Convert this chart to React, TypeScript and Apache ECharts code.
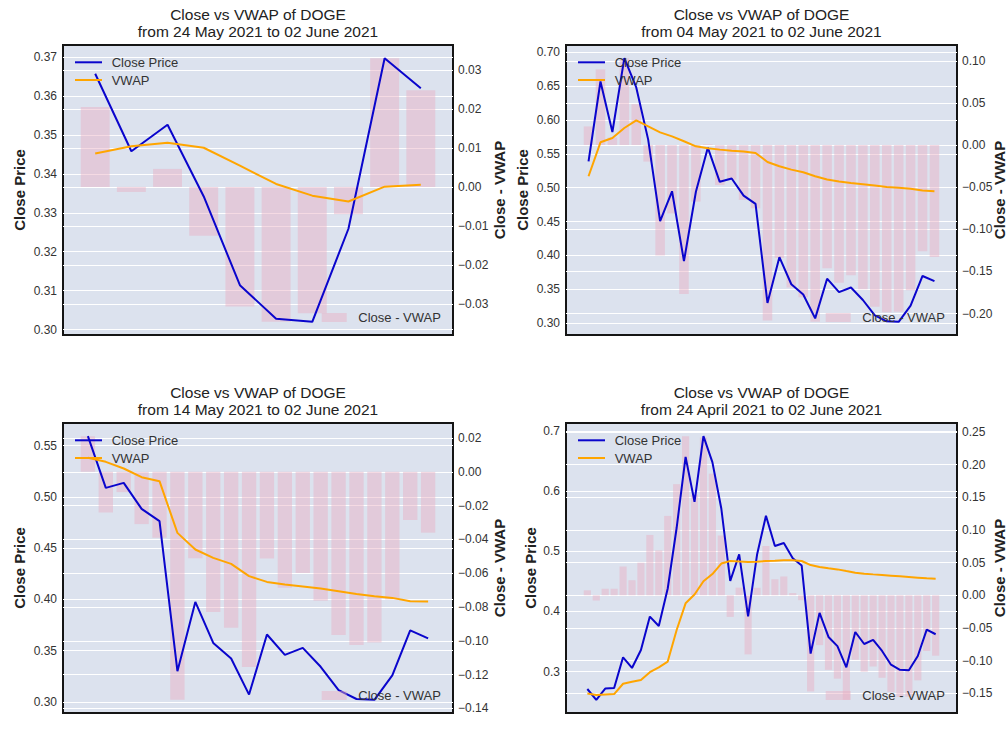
import React, { useEffect, useRef } from "react";
import * as echarts from "echarts";

const FONT = "'Liberation Sans', Arial, Helvetica, sans-serif";

// Daily close price of DOGE, 24 April 2021 .. 02 June 2021 (40 days)
const closePrice = [
  0.2710, 0.2530, 0.2718, 0.2725, 0.3237, 0.3060, 0.3359, 0.3913, 0.3757, 0.4380,
  0.5390, 0.6568, 0.5822, 0.6912, 0.6480, 0.5710, 0.4505, 0.4947, 0.3916, 0.4940,
  0.5591, 0.5087, 0.5136, 0.4882, 0.4762, 0.3299, 0.3975, 0.3575, 0.3423, 0.3071,
  0.3657, 0.3458, 0.3526, 0.3342, 0.3114, 0.3028, 0.3020, 0.3259, 0.3697, 0.3620,
];

// VWAP and Close - VWAP for each look-back window
const vwap10 = [0.3452, 0.3471, 0.3480, 0.3467, 0.3421, 0.3374, 0.3344, 0.3329, 0.3367, 0.3372];
const diff10 = [0.0205, -0.0013, 0.0046, -0.0125, -0.0307, -0.0346, -0.0324, -0.0070, 0.0330, 0.0248];

const vwap30 = [
  0.5169, 0.5670, 0.5734, 0.5881, 0.5994, 0.5906, 0.5817, 0.5758, 0.5685, 0.5611,
  0.5582, 0.5562, 0.5547, 0.5533, 0.5513, 0.5380, 0.5317, 0.5267, 0.5228, 0.5169,
  0.5120, 0.5091, 0.5071, 0.5052, 0.5032, 0.5012, 0.4998, 0.4983, 0.4958, 0.4948,
];
const diff30 = [
  0.0221, 0.0898, 0.0088, 0.1031, 0.0486, -0.0196, -0.1312, -0.0811, -0.1769, -0.0671,
  0.0009, -0.0475, -0.0411, -0.0651, -0.0751, -0.2081, -0.1342, -0.1692, -0.1805, -0.2098,
  -0.1463, -0.1633, -0.1545, -0.1710, -0.1918, -0.1984, -0.1978, -0.1724, -0.1261, -0.1328,
];

const vwap20 = [
  0.5380, 0.5341, 0.5276, 0.5191, 0.5152, 0.4648, 0.4486, 0.4404, 0.4346, 0.4226,
  0.4170, 0.4144, 0.4125, 0.4105, 0.4079, 0.4053, 0.4030, 0.4014, 0.3982, 0.3980,
];
const diff20 = [
  0.0211, -0.0240, -0.0120, -0.0309, -0.0390, -0.1349, -0.0511, -0.0829, -0.0923, -0.1155,
  -0.0513, -0.0686, -0.0599, -0.0763, -0.0965, -0.1025, -0.1010, -0.0755, -0.0285, -0.0360,
];

const vwap40 = [
  0.2634, 0.2610, 0.2618, 0.2625, 0.2797, 0.2830, 0.2860, 0.2990, 0.3070, 0.3166,
  0.3690, 0.4134, 0.4280, 0.4500, 0.4620, 0.4795, 0.4836, 0.4830, 0.4820, 0.4826,
  0.4837, 0.4842, 0.4848, 0.4848, 0.4837, 0.4770, 0.4737, 0.4715, 0.4698, 0.4670,
  0.4643, 0.4627, 0.4615, 0.4604, 0.4593, 0.4582, 0.4571, 0.4560, 0.4549, 0.4544,
];
const diff40 = [
  0.0076, -0.0080, 0.0100, 0.0100, 0.0440, 0.0230, 0.0499, 0.0923, 0.0687, 0.1214,
  0.1700, 0.2434, 0.1542, 0.2412, 0.1860, 0.0915, -0.0331, 0.0117, -0.0904, 0.0114,
  0.0754, 0.0245, 0.0288, 0.0034, -0.0075, -0.1471, -0.0762, -0.1140, -0.1275, -0.1599,
  -0.0986, -0.1169, -0.1089, -0.1262, -0.1479, -0.1554, -0.1551, -0.1301, -0.0852, -0.0924,
];

// Tick labels
const leftTicks1 = ["0.30", "0.31", "0.32", "0.33", "0.34", "0.35", "0.36", "0.37"];
const rightTicks1 = ["−0.03", "−0.02", "−0.01", "0.00", "0.01", "0.02", "0.03"];
const leftTicks2 = ["0.30", "0.35", "0.40", "0.45", "0.50", "0.55", "0.60", "0.65", "0.70"];
const rightTicks2 = ["−0.20", "−0.15", "−0.10", "−0.05", "0.00", "0.05", "0.10"];
const leftTicks3 = ["0.30", "0.35", "0.40", "0.45", "0.50", "0.55"];
const rightTicks3 = ["−0.14", "−0.12", "−0.10", "−0.08", "−0.06", "−0.04", "−0.02", "0.00", "0.02"];
const leftTicks4 = ["0.3", "0.4", "0.5", "0.6", "0.7"];
const rightTicks4 = ["−0.15", "−0.10", "−0.05", "0.00", "0.05", "0.10", "0.15", "0.20", "0.25"];

const titleMain = "Close vs VWAP of DOGE";
const subtitles = [
  "from 24 May 2021 to 02 June 2021",
  "from 04 May 2021 to 02 June 2021",
  "from 14 May 2021 to 02 June 2021",
  "from 24 April 2021 to 02 June 2021",
];

const panels = [
  { sub: subtitles[0], vwap: vwap10, diff: diff10, lt: leftTicks1, rt: rightTicks1,
    box: { left: 63, top: 45, width: 390, height: 290 }, lGap: 36, rGap: 39 },
  { sub: subtitles[1], vwap: vwap30, diff: diff30, lt: leftTicks2, rt: rightTicks2,
    box: { left: 566, top: 45, width: 391, height: 290 }, lGap: 36, rGap: 34.5 },
  { sub: subtitles[2], vwap: vwap20, diff: diff20, lt: leftTicks3, rt: rightTicks3,
    box: { left: 63, top: 423, width: 390, height: 290 }, lGap: 36, rGap: 39 },
  { sub: subtitles[3], vwap: vwap40, diff: diff40, lt: leftTicks4, rt: rightTicks4,
    box: { left: 566, top: 423, width: 391, height: 290 }, lGap: 28, rGap: 34.5 },
];

const toNum = (s: string) => Number(s.replace("−", "-"));

function autoRange(vals: number[]): [number, number] {
  const lo = Math.min(...vals);
  const hi = Math.max(...vals);
  const m = (hi - lo) * 0.05;
  return [lo - m, hi + m];
}

function tickAxis(labels: string[]) {
  const nums = labels.map(toNum);
  return {
    nums,
    fmt: (v: number) => {
      const i = nums.findIndex((n) => Math.abs(n - v) < 1e-9);
      return i >= 0 ? labels[i] : "";
    },
  };
}

function buildOption() {
  const grid: any[] = [];
  const xAxis: any[] = [];
  const yAxis: any[] = [];
  const series: any[] = [];
  const title: any[] = [];
  const legend: any[] = [];

  panels.forEach((p, k) => {
    const n = p.vwap.length;
    const close = closePrice.slice(closePrice.length - n);
    const span = n - 1 + 0.8;
    const xMin = -0.4 - 0.05 * span;
    const xMax = n - 1 + 0.4 + 0.05 * span;
    const barPx = (0.8 * p.box.width) / (1.1 * span);
    const [lMin, lMax] = autoRange([...close, ...p.vwap]);
    const [rMin, rMax] = autoRange([0, ...p.diff]);
    const lt = tickAxis(p.lt);
    const rt = tickAxis(p.rt);

    grid.push({
      ...p.box,
      show: true,
      backgroundColor: "#dce2ee",
      borderColor: "#151515",
      borderWidth: 2,
      containLabel: false,
      outerBoundsMode: "none",
    });
    xAxis.push({ gridIndex: k, type: "value", min: xMin, max: xMax, show: false });

    const common = {
      gridIndex: k,
      type: "value",
      nameLocation: "middle",
      nameRotate: 90,
      nameMoveOverlap: false,
      nameTextStyle: { fontSize: 15, fontWeight: "bold", color: "#222", fontFamily: FONT },
      axisLine: { show: false },
      splitLine: { show: true, lineStyle: { color: "#ffffff", width: 1.2 } },
    };
    yAxis.push({
      ...common,
      position: "left",
      min: lMin,
      max: lMax,
      name: "Close Price",
      nameGap: p.lGap,
      axisTick: { show: false, customValues: lt.nums },
      axisLabel: { customValues: lt.nums, formatter: lt.fmt, color: "#333", fontSize: 12, margin: 6, fontFamily: FONT },
    });
    yAxis.push({
      ...common,
      position: "right",
      min: rMin,
      max: rMax,
      name: "Close - VWAP",
      nameGap: p.rGap,
      axisTick: { show: false, customValues: rt.nums },
      axisLabel: { customValues: rt.nums, formatter: rt.fmt, color: "#333", fontSize: 12, margin: 5, fontFamily: FONT },
    });

    series.push({
      type: "bar",
      name: "Close - VWAP",
      xAxisIndex: k,
      yAxisIndex: 2 * k + 1,
      data: p.diff.map((v, i) => [i, v]),
      barWidth: barPx,
      itemStyle: { color: "rgba(232,172,192,0.45)" },
      z: 1,
    });
    series.push({
      type: "line",
      name: "Close Price",
      xAxisIndex: k,
      yAxisIndex: 2 * k,
      data: close.map((v, i) => [i, v]),
      symbol: "none",
      color: "#0a05cc",
      lineStyle: { width: 2, color: "#0a05cc" },
      z: 3,
    });
    series.push({
      type: "line",
      name: "VWAP",
      xAxisIndex: k,
      yAxisIndex: 2 * k,
      data: p.vwap.map((v, i) => [i, v]),
      symbol: "none",
      color: "#FFA500",
      lineStyle: { width: 2, color: "#FFA500" },
      z: 3,
    });

    const L = p.box.left;
    const T = p.box.top;
    const R = L + p.box.width;
    const B = T + p.box.height;
    title.push({
      text: titleMain + "\n" + p.sub,
      left: L + p.box.width / 2,
      top: T - 38.8,
      textAlign: "center",
      padding: 0,
      textStyle: { fontSize: 15.5, fontWeight: "normal", color: "#222", lineHeight: 17, fontFamily: FONT },
    });
    legend.push({
      data: ["Close Price", "VWAP"],
      orient: "vertical",
      left: L + 12,
      top: T + 9.8,
      padding: 0,
      icon: "rect",
      itemWidth: 27,
      itemHeight: 2,
      itemGap: 2.7,
      selectedMode: false,
      textStyle: { fontSize: 13, color: "#333", fontFamily: FONT, lineHeight: 15, padding: [0, 0, 0, 4.7] },
    });
    legend.push({
      data: ["Close - VWAP"],
      orient: "vertical",
      left: R - 131.3,
      top: B - 25,
      padding: 0,
      icon: "rect",
      itemWidth: 25,
      itemHeight: 9,
      selectedMode: false,
      textStyle: { fontSize: 13, color: "#333", fontFamily: FONT, lineHeight: 15, padding: [0, 0, 0, 6.6] },
    });
  });

  return {
    animation: false,
    backgroundColor: "#ffffff",
    textStyle: { fontFamily: FONT },
    title,
    legend,
    grid,
    xAxis,
    yAxis,
    series,
  };
}

export default function App() {
  const ref = useRef<HTMLDivElement>(null);
  useEffect(() => {
    if (!ref.current) return;
    const chart = echarts.init(ref.current, undefined, { renderer: "svg" });
    chart.setOption(buildOption() as any);
    return () => chart.dispose();
  }, []);
  return (
    <div
      ref={ref}
      style={{ position: "absolute", left: 0, top: 0, width: 1007, height: 755, background: "#fff" }}
    />
  );
}
